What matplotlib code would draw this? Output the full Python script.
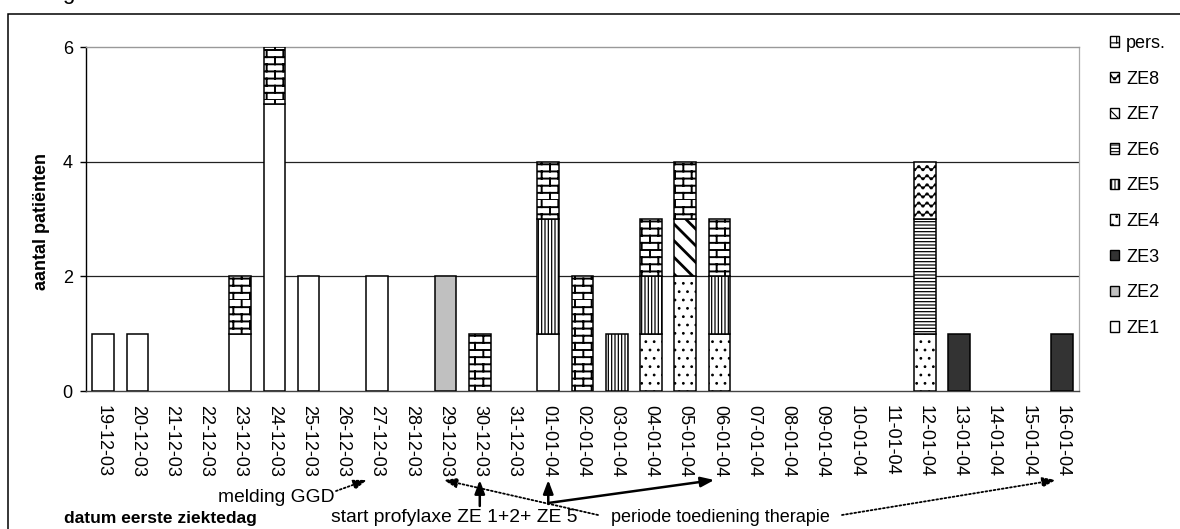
import warnings

import matplotlib

matplotlib.use("Agg")
import matplotlib.hatch as mhatch
import matplotlib.pyplot as plt
import numpy as np
from matplotlib.patches import Patch, Rectangle
from matplotlib.path import Path

warnings.filterwarnings("ignore", message=".*hatch must consist.*")

plt.rcParams["font.family"] = ["Liberation Sans", "DejaVu Sans"]
plt.rcParams["hatch.linewidth"] = 0.8

W, H = 1180, 529

dates = [
    "19-12-03", "20-12-03", "21-12-03", "22-12-03", "23-12-03", "24-12-03",
    "25-12-03", "26-12-03", "27-12-03", "28-12-03", "29-12-03", "30-12-03",
    "31-12-03", "01-01-04", "02-01-04", "03-01-04", "04-01-04", "05-01-04",
    "06-01-04", "07-01-04", "08-01-04", "09-01-04", "10-01-04", "11-01-04",
    "12-01-04", "13-01-04", "14-01-04", "15-01-04", "16-01-04",
]

# patients per day, per unit (ZE) and staff
ze1 = [1, 1, 0, 0, 1, 5, 2, 0, 2, 0, 0, 0, 0, 1, 0, 0, 0, 0, 0, 0, 0, 0, 0, 0, 0, 0, 0, 0, 0]
ze2 = [0, 0, 0, 0, 0, 0, 0, 0, 0, 0, 2, 0, 0, 0, 0, 0, 0, 0, 0, 0, 0, 0, 0, 0, 0, 0, 0, 0, 0]
ze3 = [0, 0, 0, 0, 0, 0, 0, 0, 0, 0, 0, 0, 0, 0, 0, 0, 0, 0, 0, 0, 0, 0, 0, 0, 0, 1, 0, 0, 1]
ze4 = [0, 0, 0, 0, 0, 0, 0, 0, 0, 0, 0, 0, 0, 0, 0, 0, 1, 2, 1, 0, 0, 0, 0, 0, 1, 0, 0, 0, 0]
ze5 = [0, 0, 0, 0, 0, 0, 0, 0, 0, 0, 0, 0, 0, 2, 0, 1, 1, 0, 1, 0, 0, 0, 0, 0, 0, 0, 0, 0, 0]
ze6 = [0, 0, 0, 0, 0, 0, 0, 0, 0, 0, 0, 0, 0, 0, 0, 0, 0, 0, 0, 0, 0, 0, 0, 0, 2, 0, 0, 0, 0]
ze7 = [0, 0, 0, 0, 0, 0, 0, 0, 0, 0, 0, 0, 0, 0, 0, 0, 0, 1, 0, 0, 0, 0, 0, 0, 0, 0, 0, 0, 0]
ze8 = [0, 0, 0, 0, 0, 0, 0, 0, 0, 0, 0, 0, 0, 0, 0, 0, 0, 0, 0, 0, 0, 0, 0, 0, 1, 0, 0, 0, 0]
pers = [0, 0, 0, 0, 1, 1, 0, 0, 0, 0, 0, 1, 0, 1, 2, 0, 1, 1, 1, 0, 0, 0, 0, 0, 0, 0, 0, 0, 0]

series_names = ["ZE1", "ZE2", "ZE3", "ZE4", "ZE5", "ZE6", "ZE7", "ZE8", "pers."]
y_ticks = [0, 2, 4, 6]


class BrickHatch(mhatch.HatchPatternBase):
    """Brick wall pattern, selected with 'b'."""

    rows = 14
    bricks = 6

    def __init__(self, hatch, density):
        self.num_vertices = self.rows * (2 + 2 * self.bricks) if "b" in hatch else 0

    def set_vertices_and_codes(self, vertices, codes):
        h = 1.0 / self.rows
        w = 1.0 / self.bricks
        pts = []
        for r in range(self.rows):
            y = r * h
            pts += [(0.0, y), (1.0, y)]
            shift = w / 2 if r % 2 else 0.0
            for b in range(self.bricks):
                x = b * w + shift
                pts += [(x, y), (x, y + h)]
        vertices[:] = pts
        codes[0::2] = Path.MOVETO
        codes[1::2] = Path.LINETO


class WaveHatch(mhatch.HatchPatternBase):
    """Wavy horizontal lines, selected with 'w'."""

    rows = 11
    waves = 12
    samples = 6

    def __init__(self, hatch, density):
        n = self.waves * self.samples + 1
        self.num_vertices = self.rows * n if "w" in hatch else 0

    def set_vertices_and_codes(self, vertices, codes):
        h = 1.0 / self.rows
        n = self.waves * self.samples + 1
        xs = np.linspace(0, 1, n)
        for r in range(self.rows):
            y = (r + 0.5) * h + 0.3 * h * np.sin(2 * np.pi * self.waves * xs)
            vertices[r * n:(r + 1) * n, 0] = xs
            vertices[r * n:(r + 1) * n, 1] = y
            codes[r * n] = Path.MOVETO
            codes[r * n + 1:(r + 1) * n] = Path.LINETO


mhatch._hatch_types.extend([BrickHatch, WaveHatch])

styles = {
    "ZE1": dict(color="white", hatch=None, hlw=0.8),
    "ZE2": dict(color="#c0c0c0", hatch=None, hlw=0.8),
    "ZE3": dict(color="#333333", hatch=None, hlw=0.8),
    "ZE4": dict(color="white", hatch="..", hlw=0.8),
    "ZE5": dict(color="white", hatch="|||||", hlw=0.9),
    "ZE6": dict(color="white", hatch="-----", hlw=0.9),
    "ZE7": dict(color="white", hatch="\\\\", hlw=2.0),
    "ZE8": dict(color="white", hatch="w", hlw=0.8),
    "pers.": dict(color="white", hatch="b", hlw=1.4),
}

fig = plt.figure(figsize=(W / 100, H / 100), dpi=100)
ax = fig.add_axes([86 / W, 1 - 391 / H, (1079 - 86) / W, (391 - 47) / H])

x = np.arange(len(dates))
bottom = np.zeros(len(dates))
for name, vals in zip(series_names, [ze1, ze2, ze3, ze4, ze5, ze6, ze7, ze8, pers]):
    vals = np.array(vals, dtype=float)
    st = styles[name]
    m = vals > 0
    bars = ax.bar(x[m], vals[m], bottom=bottom[m], width=0.63,
                  facecolor=st["color"], edgecolor="black", linewidth=1.1,
                  hatch=st["hatch"], zorder=3)
    for p in bars:
        if hasattr(p, "set_hatch_linewidth"):
            p.set_hatch_linewidth(st["hlw"])
    bottom += vals

ax.set_xlim(-0.5, len(dates) - 0.5)
ax.set_ylim(0, 6)
for yv in (2, 4):
    ax.axhline(yv, color="#222222", lw=0.9, zorder=1)

ax.spines["left"].set_color("black")
ax.spines["left"].set_linewidth(1.0)
ax.spines["bottom"].set_color("#444444")
ax.spines["bottom"].set_linewidth(1.0)
ax.spines["top"].set_color("#999999")
ax.spines["top"].set_linewidth(1.0)
ax.spines["right"].set_color("#aaaaaa")
ax.spines["right"].set_linewidth(0.9)

ax.set_yticks(y_ticks)
ax.set_yticklabels([str(t) for t in y_ticks], fontsize=13)
ax.tick_params(axis="y", direction="out", length=4.5, width=1, pad=5)
ax.set_xticks(x)
ax.set_xticklabels(dates, rotation=270, fontsize=13, va="top", ha="center")
ax.tick_params(axis="x", length=0, pad=10)

fig.text(41 / W, 1 - 222 / H, "aantal patiënten", rotation=90, ha="center",
         va="center", fontsize=13, fontweight="bold")

handles = [Patch(facecolor=styles[n]["color"], edgecolor="black", linewidth=1.0,
                 hatch=styles[n]["hatch"], label=n) for n in series_names[::-1]]
fig.legend(handles=handles, loc="upper left", bbox_to_anchor=(1110 / W, 1 - 35 / H),
           frameon=False, fontsize=13, handlelength=0.5, handleheight=0.5,
           handletextpad=0.4, labelspacing=1.03, borderpad=0, borderaxespad=0)

# outer frame and the clipped caption above it
fig.add_artist(Rectangle((8 / W, -0.1), 2, 1 - 14 / H + 0.1, transform=fig.transFigure,
                         fill=False, edgecolor="black", linewidth=1.1))
fig.text(62 / W, 1 + 1 / H, "g", fontsize=16, ha="left", va="baseline")


def fpx(px, py):
    return px / W, 1 - py / H


fig.text(*fpx(276, 497), "melding GGD", fontsize=13.9, ha="center", va="center")
fig.text(*fpx(160, 518), "datum eerste ziektedag", fontsize=12.5, fontweight="bold",
         ha="center", va="center")
fig.text(*fpx(454, 518), "start profylaxe ZE 1+2+ ZE 5", fontsize=13.9,
         ha="center", va="center")
fig.text(*fpx(720, 517), "periode toediening therapie", fontsize=13,
         ha="center", va="center")

tip_y = 1 - 480 / H
head = "-|>,head_length=0.8,head_width=0.3"
dotted = dict(arrowstyle=head, color="black", lw=1.3, linestyle=(0, (1, 1.3)),
              shrinkA=0, shrinkB=0, mutation_scale=10)
solid = dict(arrowstyle=head, color="black", lw=1.8, shrinkA=0, shrinkB=0,
             mutation_scale=10)
mixed = ("data", "figure fraction")

ax.annotate("", xy=(8 - 0.3, tip_y), xycoords=mixed,
            xytext=fpx(336, 491), textcoords="figure fraction", arrowprops=dotted)
ax.annotate("", xy=(10 - 0.05, tip_y), xycoords=mixed,
            xytext=fpx(598, 515), textcoords="figure fraction", arrowprops=dotted)
ax.annotate("", xy=(28 - 0.18, tip_y), xycoords=mixed,
            xytext=fpx(842, 515), textcoords="figure fraction", arrowprops=dotted)
ax.annotate("", xy=(11, tip_y), xycoords=mixed,
            xytext=(11, 1 - 506 / H), textcoords=mixed, arrowprops=solid)
ax.annotate("", xy=(13, tip_y), xycoords=mixed,
            xytext=(13, 1 - 504 / H), textcoords=mixed, arrowprops=solid)
ax.annotate("", xy=(18 - 0.15, tip_y), xycoords=mixed,
            xytext=(13, 1 - 503 / H), textcoords=mixed, arrowprops=solid)

fig.savefig("out.png", dpi=100)
